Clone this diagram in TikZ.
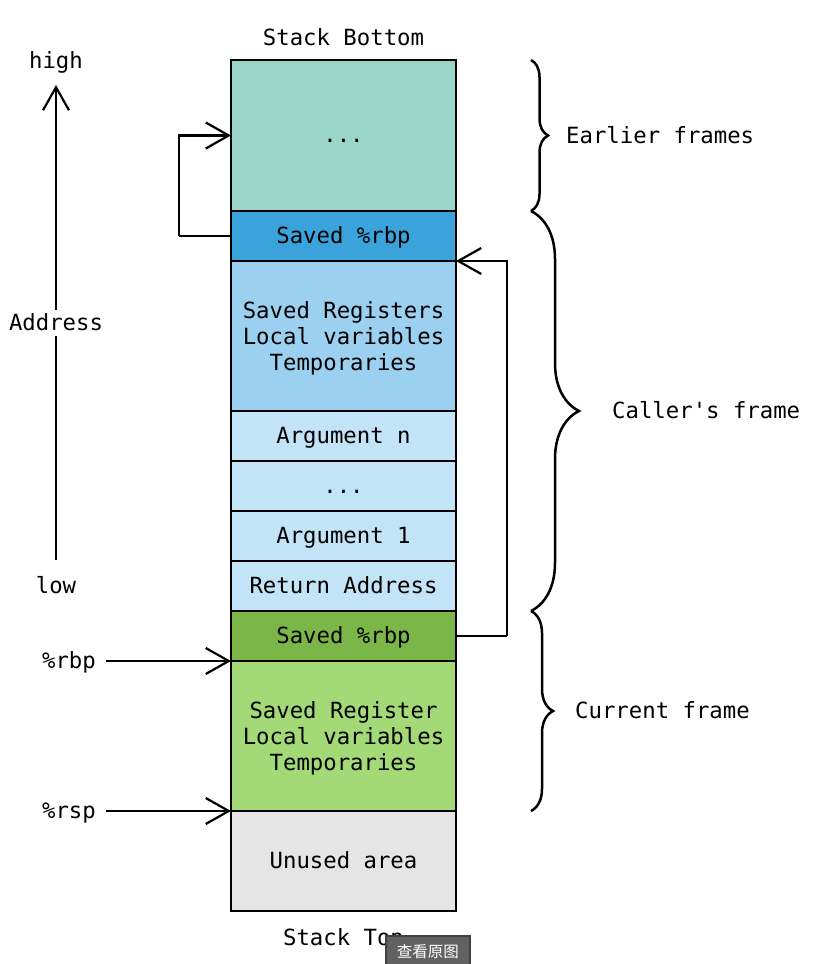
\documentclass[tikz,border=0pt]{standalone}
\usepackage{fontspec}
\setmainfont{DejaVu Sans Mono}[Ligatures=TeXOff]
\newfontfamily\cjk{Noto Sans CJK SC}
\usetikzlibrary{arrows.meta,decorations.pathreplacing}
\definecolor{cteal}{HTML}{9BD5CA}
\definecolor{cblue}{HTML}{3AA3DC}
\definecolor{cblueB}{HTML}{9CD0F1}
\definecolor{cblueC}{HTML}{C3E4F6}
\definecolor{cgreenA}{HTML}{7AB648}
\definecolor{cgreenB}{HTML}{A3D977}
\definecolor{cgrey}{HTML}{E5E5E5}
\newcommand{\threelines}[3]{\raisebox{-8pt}[0pt][0pt]{\begin{tabular}{@{}c@{}}#1\\#2\\#3\end{tabular}}}
\tikzset{
  cell/.style={draw=black, line width=2.5pt, minimum width=225pt, inner sep=0pt, outer sep=0pt, font=\fontsize{22.3}{26}\selectfont},
  onel/.style={text height=16pt, text depth=2pt},
  lbl/.style={inner sep=0pt, text height=16pt, text depth=2pt, font=\fontsize{22.3}{26}\selectfont},
  arr/.style={line width=2.2pt, -{Straight Barb[length=23pt,width=26pt]}},
  conn/.style={line width=2.2pt},
  brc/.style={line width=2.5pt, decoration={brace, amplitude=#1}, decorate},
}
\begin{document}
\begin{tikzpicture}[x=1pt,y=-1pt]
\useasboundingbox[fill=white] (0,0) rectangle (826,964);
% stack cells
\node[cell, onel, fill=cteal, minimum height=151pt] (c1) at (343.5,135.5) {...};
\node[cell, onel, fill=cblue, minimum height=50pt] (c2) at (343.5,236) {Saved \%rbp};
\node[cell, fill=cblueB, minimum height=150pt] (c3) at (343.5,336) {\threelines{Saved Registers}{Local variables}{Temporaries}};
\node[cell, onel, fill=cblueC, minimum height=50pt] (c4) at (343.5,436) {Argument n};
\node[cell, onel, fill=cblueC, minimum height=50pt] (c5) at (343.5,486) {...};
\node[cell, onel, fill=cblueC, minimum height=50pt] (c6) at (343.5,536) {Argument 1};
\node[cell, onel, fill=cblueC, minimum height=50pt] (c7) at (343.5,586) {Return Address};
\node[cell, onel, fill=cgreenA, minimum height=50pt] (c8) at (343.5,636) {Saved \%rbp};
\node[cell, fill=cgreenB, minimum height=150pt] (c9) at (343.5,736) {\threelines{Saved Register}{Local variables}{Temporaries}};
\node[cell, onel, fill=cgrey, minimum height=100pt] (c10) at (343.5,861) {Unused area};
% top / bottom labels
\node[lbl] (sbot) at (343.5,38) {Stack Bottom};
\node[lbl] (stop) at (343.5,938) {Stack Top};
% address axis
\coordinate (abot) at (56,560);
\coordinate (atop) at (56,85);
\draw[arr] (abot) -- (atop);
\node[lbl] (high) at (56,61) {high};
\node[lbl, fill=white, inner ysep=4pt] (addr) at (56,323) {Address};
\node[lbl] (low) at (56,586) {low};
% register pointers
\node[lbl] (rbp) at (69,661) {\%rbp};
\node[lbl] (rsp) at (69,811) {\%rsp};
\draw[arr] ([xshift=10pt]rbp.east |- c9.north west) -- (c9.north west);
\draw[arr] ([xshift=10pt]rsp.east |- c10.north west) -- (c10.north west);
% saved rbp links
\draw[conn] (c2.west) -- ++(-52,0) coordinate (lk1);
\draw[arr] (lk1) |- (c1.west);
\draw[conn] (c8.east) -- ++(51,0) coordinate (lk2);
\draw[arr] (lk2) |- (c3.north east);
% braces
\coordinate (b0) at (531,60);
\coordinate (b1) at (531,211);
\coordinate (b2) at (531,611);
\coordinate (b3) at (531,811);
\draw[brc=17pt] (b0) -- (b1);
\draw[brc=48pt] (b1) -- (b2);
\draw[brc=22pt] (b2) -- (b3);
\node[lbl, anchor=west] (earl) at (566,136) {Earlier frames};
\node[lbl, anchor=west] (call) at (612,411) {Caller's frame};
\node[lbl, anchor=west] (curr) at (575,711) {Current frame};
% overlay button
\node[draw=black!75, line width=1.5pt, fill=black!62, minimum width=84pt, minimum height=32pt, inner sep=0pt, text=white, font=\cjk\fontsize{15.5}{15.5}\selectfont, anchor=north west] (btn) at (385,935) {查看原图};
\end{tikzpicture}
\end{document}
